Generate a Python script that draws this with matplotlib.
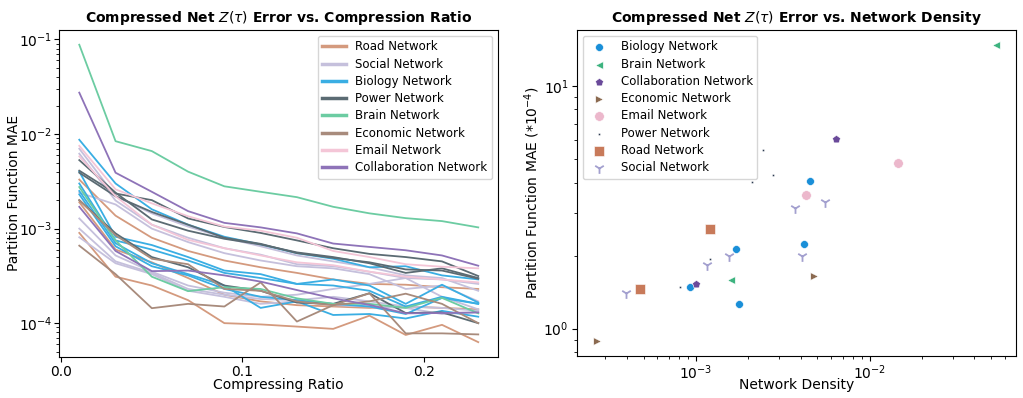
import numpy as np
import matplotlib
matplotlib.use("Agg")
import matplotlib.pyplot as plt
from matplotlib.lines import Line2D

# ---------------- data: left panel ----------------
ratios = [0.01, 0.03, 0.05, 0.07, 0.09, 0.11, 0.13, 0.15, 0.17, 0.19, 0.21, 0.23]

road_lines = [
    [3.3e-3, 1.37e-3, 8.0e-4, 5.8e-4, 4.6e-4, 3.9e-4, 3.4e-4, 2.9e-4, 2.6e-4, 2.55e-4, 2.4e-4, 2.3e-4],
    [9.0e-4, 3.1e-4, 2.5e-4, 1.75e-4, 1.0e-4, 9.7e-5, 9.2e-5, 8.7e-5, 1.2e-4, 7.5e-5, 9.6e-5, 6.3e-5],
    [1.9e-3, 6.0e-4, 4.4e-4, 3.0e-4, 2.0e-4, 1.7e-4, 1.55e-4, 1.5e-4, 1.45e-4, 1.5e-4, 1.45e-4, 1.4e-4],
]
social_lines = [
    [7.0e-3, 2.2e-3, 1.45e-3, 1.05e-3, 8.0e-4, 6.5e-4, 5.2e-4, 4.5e-4, 3.9e-4, 3.2e-4, 3.0e-4, 2.2e-4],
    [6.2e-3, 1.98e-3, 1.1e-3, 8.0e-4, 6.2e-4, 5.3e-4, 4.2e-4, 4.0e-4, 3.5e-4, 3.0e-4, 2.9e-4, 2.6e-4],
    [1.28e-3, 5.2e-4, 3.5e-4, 2.5e-4, 2.1e-4, 1.9e-4, 2.0e-4, 2.3e-4, 2.6e-4, 3.0e-4, 1.9e-4, 1.4e-4],
    [1.0e-3, 4.5e-4, 3.4e-4, 2.3e-4, 2.0e-4, 1.8e-4, 1.75e-4, 1.9e-4, 1.7e-4, 1.5e-4, 1.45e-4, 1.35e-4],
    [8.1e-4, 4.3e-4, 3.3e-4, 2.2e-4, 1.9e-4, 1.6e-4, 1.7e-4, 1.55e-4, 1.5e-4, 1.45e-4, 1.25e-4, 1.3e-4],
    [2.4e-3, 1.8e-3, 1.0e-3, 7.2e-4, 5.5e-4, 4.6e-4, 4.0e-4, 3.8e-4, 3.3e-4, 2.3e-4, 2.5e-4, 1.7e-4],
]
biology_lines = [
    [8.7e-3, 3.0e-3, 1.6e-3, 1.1e-3, 8.2e-4, 6.8e-4, 5.5e-4, 4.8e-4, 3.9e-4, 4.0e-4, 3.2e-4, 2.9e-4],
    [4.0e-3, 8.2e-4, 6.7e-4, 5.0e-4, 3.6e-4, 3.3e-4, 2.6e-4, 2.9e-4, 2.5e-4, 1.6e-4, 2.55e-4, 1.65e-4],
    [3.0e-3, 7.5e-4, 6.0e-4, 4.6e-4, 3.4e-4, 3.0e-4, 2.6e-4, 2.5e-4, 2.2e-4, 1.5e-4, 1.9e-4, 1.6e-4],
    [2.5e-3, 7.0e-4, 4.3e-4, 3.3e-4, 2.5e-4, 1.45e-4, 1.7e-4, 1.22e-4, 1.25e-4, 1.12e-4, 1.35e-4, 1.17e-4],
    [2.3e-3, 6.5e-4, 4.0e-4, 3.2e-4, 2.3e-4, 1.9e-4, 1.75e-4, 1.6e-4, 1.5e-4, 1.25e-4, 1.85e-4, 1.6e-4],
]
power_lines = [
    [5.3e-3, 2.4e-3, 1.25e-3, 9.5e-4, 7.8e-4, 6.8e-4, 5.6e-4, 5.0e-4, 4.3e-4, 3.4e-4, 3.8e-4, 3.0e-4],
    [4.1e-3, 2.35e-3, 2.0e-3, 1.28e-3, 1.04e-3, 9.0e-4, 7.5e-4, 6.2e-4, 5.4e-4, 5.0e-4, 4.5e-4, 3.15e-4],
    [2.0e-3, 8.9e-4, 5.0e-4, 3.9e-4, 2.5e-4, 2.2e-4, 1.65e-4, 1.6e-4, 2.07e-4, 1.28e-4, 1.3e-4, 1.0e-4],
    [3.9e-3, 2.2e-3, 1.5e-3, 1.1e-3, 8.0e-4, 6.9e-4, 5.5e-4, 4.9e-4, 4.4e-4, 3.7e-4, 3.6e-4, 2.95e-4],
]
brain_lines = [
    [8.8e-2, 8.4e-3, 6.6e-3, 4.0e-3, 2.8e-3, 2.45e-3, 2.15e-3, 1.7e-3, 1.45e-3, 1.29e-3, 1.2e-3, 1.03e-3],
    [2.75e-3, 7.5e-4, 3.1e-4, 2.18e-4, 2.4e-4, 2.3e-4, 1.83e-4, 1.6e-4, 1.6e-4, 1.45e-4, 1.85e-4, 1.27e-4],
]
economic_lines = [
    [6.6e-4, 3.3e-4, 1.44e-4, 1.6e-4, 1.5e-4, 2.7e-4, 1.04e-4, 1.55e-4, 2.07e-4, 7.8e-5, 7.8e-5, 7.6e-5],
    [2.0e-3, 8.5e-4, 4.8e-4, 4.2e-4, 2.3e-4, 2.2e-4, 1.7e-4, 1.55e-4, 1.7e-4, 2.05e-4, 1.6e-4, 1.0e-4],
]
email_lines = [
    [7.5e-3, 2.6e-3, 1.85e-3, 1.35e-3, 1.05e-3, 9.5e-4, 8.0e-4, 5.8e-4, 5.0e-4, 4.2e-4, 3.95e-4, 3.8e-4],
    [5.8e-3, 2.2e-3, 1.1e-3, 7.6e-4, 6.2e-4, 5.2e-4, 4.4e-4, 4.1e-4, 3.5e-4, 3.1e-4, 2.9e-4, 2.7e-4],
]
collab_lines = [
    [2.74e-2, 3.9e-3, 2.45e-3, 1.53e-3, 1.15e-3, 1.03e-3, 8.9e-4, 6.95e-4, 6.4e-4, 5.9e-4, 5.2e-4, 4.05e-4],
    [1.7e-3, 5.8e-4, 3.55e-4, 3.6e-4, 3.2e-4, 2.75e-4, 2.24e-4, 1.83e-4, 1.56e-4, 1.27e-4, 1.28e-4, 1.3e-4],
]

left_names = ["Road Network", "Social Network", "Biology Network", "Power Network",
              "Brain Network", "Economic Network", "Email Network", "Collaboration Network"]
left_colors = ["#d49a7e", "#c5c0dc", "#3aaee3", "#5b6b73", "#6ccca2", "#a88b7c", "#f4c6d7", "#8e73b8"]
left_data = [road_lines, social_lines, biology_lines, power_lines,
             brain_lines, economic_lines, email_lines, collab_lines]
x_ticks = [0.0, 0.1, 0.2]

# ---------------- data: right panel ----------------
right_names = ["Biology Network", "Brain Network", "Collaboration Network", "Economic Network",
               "Email Network", "Power Network", "Road Network", "Social Network"]
dens_biology = [0.00453, 0.00417, 0.00170, 0.00177, 0.000924]
mae_biology = [4.06, 2.24, 2.12, 1.26, 1.48]
dens_brain = [0.0533, 0.00160]
mae_brain = [14.8, 1.58]
dens_collab = [0.00644, 0.00100]
mae_collab = [6.04, 1.52]
dens_econ = [0.000269, 0.00475]
mae_econ = [0.889, 1.65]
dens_email = [0.01455, 0.00428]
mae_email = [4.83, 3.54]
dens_power = [0.00242, 0.00277, 0.00209, 0.00121, 0.000813]
mae_power = [5.46, 4.29, 4.02, 1.94, 1.48]
dens_road = [0.00121, 0.000475]
mae_road = [2.58, 1.45]
dens_social = [0.0055, 0.00373, 0.00407, 0.00155, 0.00115, 0.000398]
mae_social = [3.31, 3.15, 2.00, 2.00, 1.82, 1.40]

right_x = [dens_biology, dens_brain, dens_collab, dens_econ, dens_email, dens_power, dens_road, dens_social]
right_y = [mae_biology, mae_brain, mae_collab, mae_econ, mae_email, mae_power, mae_road, mae_social]
right_colors = ["#1a8fd8", "#3db37f", "#6a4a9a", "#8b6a50", "#ecb8cc", "#2b3a50", "#c87a5a", "#a3a0cf"]
right_markers = ["o", "<", "p", ">", "o", ".", "s", "1"]
right_sizes = [32, 30, 36, 30, 48, 12, 44, 60]

# ---------------- figure ----------------
fig = plt.figure(figsize=(10.23, 3.98), dpi=100)
ax1 = fig.add_axes([0.058, 0.103, 0.429, 0.822])
ax2 = fig.add_axes([0.564, 0.106, 0.429, 0.819])

for name, color, lines in zip(left_names, left_colors, left_data):
    for vals in lines:
        ax1.plot(ratios, vals, color=color, lw=1.3)
ax1.set_yscale("log")
ax1.set_xticks(x_ticks)
ax1.tick_params(axis="y", which="major", pad=1.5)
ax1.tick_params(axis="x", which="major", pad=2.0)
ax1.set_xlabel("Compressing Ratio", fontsize=10)
ax1.set_ylabel("Partition Function MAE", fontsize=10)
ax1.xaxis.set_label_coords(0.5, -0.064)
ax1.yaxis.set_label_coords(-0.088, 0.5)
ax1.set_title(r"Compressed Net $Z(\tau)$ Error vs. Compression Ratio", fontsize=10, fontweight="bold")
handles = [Line2D([0], [0], color=c, lw=2.5) for c in left_colors]
ax1.legend(handles, left_names, loc="upper right", fontsize=8.5, handlelength=2.0,
           labelspacing=0.36)

for name, xs, ys, c, m, s in zip(right_names, right_x, right_y, right_colors, right_markers, right_sizes):
    if m == "1":
        ax2.scatter(xs, ys, marker=m, s=s, color=c, label=name, linewidths=1.3)
    else:
        ax2.scatter(xs, ys, marker=m, s=s, color=c, label=name, edgecolors="white", linewidths=0.4)
ax2.set_xscale("log")
ax2.set_yscale("log")
ax2.tick_params(axis="y", which="major", pad=2.5)
ax2.tick_params(axis="x", which="major", pad=2.0)
ax2.set_xlabel("Network Density", fontsize=10)
ax2.set_ylabel(r"Partition Function MAE (*10$^{-4}$)", fontsize=10)
ax2.xaxis.set_label_coords(0.5, -0.068)
ax2.yaxis.set_label_coords(-0.079, 0.5)
ax2.set_title(r"Compressed Net $Z(\tau)$ Error vs. Network Density", fontsize=10, fontweight="bold")
ax2.legend(loc="upper left", fontsize=8.5, labelspacing=0.36)

fig.savefig("out.png", dpi=100)
